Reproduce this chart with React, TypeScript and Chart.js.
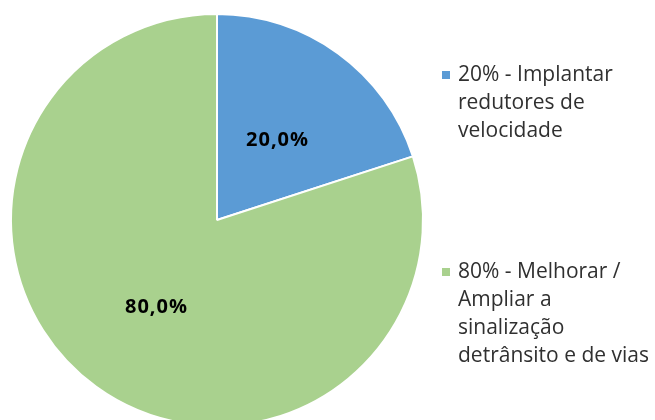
import React, { useEffect, useRef } from "react";
import { Chart, registerables } from "chart.js";

Chart.register(...registerables);

const categories = ["20% - Implantar redutores de velocidade", "80% - Melhorar / Ampliar a sinalização detrânsito e de vias"];
const values = [20, 80];
const valueLabels = ["20,0%", "80,0%"];
const legendLines = [
  ["20% - Implantar", "redutores de", "velocidade"],
  ["80% - Melhorar /", "Ampliar a", "sinalização", "detrânsito e de vias"],
];
const colors = ["#5B9BD5", "#A9D18E"];

const FONT = "'Open Sans', sans-serif";

export default function App() {
  const ref = useRef<HTMLCanvasElement | null>(null);
  useEffect(() => {
    document.body.style.margin = "0";
    const labelPlugin = {
      id: "labels",
      afterDatasetsDraw(chart: any) {
        const ctx = chart.ctx;
        const meta = chart.getDatasetMeta(0);
        ctx.save();
        ctx.fillStyle = "#000";
        ctx.textAlign = "center";
        ctx.textBaseline = "middle";
        ctx.font = `bold 20px ${FONT}`;
        (ctx as any).letterSpacing = "1px";
        meta.data.forEach((arc: any, i: number) => {
          const p = arc.tooltipPosition();
          ctx.fillText(valueLabels[i], p.x, p.y + 4);
        });
        (ctx as any).letterSpacing = "0px";
        // legend
        ctx.textAlign = "left";
        ctx.textBaseline = "middle";
        ctx.font = `21px ${FONT}`;
        const starts = [75, 272];
        legendLines.forEach((lines, i) => {
          ctx.fillStyle = colors[i];
          ctx.fillRect(442, starts[i] - 4, 8, 8);
          ctx.fillStyle = "#303030";
          lines.forEach((ln, j) => {
            ctx.fillText(ln, 458, starts[i] + j * 28);
          });
        });
        ctx.restore();
      },
    };
    const chart = new Chart(ref.current as HTMLCanvasElement, {
      type: "pie",
      data: {
        labels: categories,
        datasets: [
          {
            data: values,
            backgroundColor: colors,
            borderColor: "#ffffff",
            borderWidth: 2,
          },
        ],
      },
      options: {
        responsive: false,
        animation: false,
        layout: { padding: { left: 10, right: 231, top: 13, bottom: 13 } },
        plugins: {
          legend: { display: false },
          tooltip: { enabled: false },
        },
      },
      plugins: [labelPlugin],
    });
    return () => chart.destroy();
  }, []);
  return (
    <div style={{ width: 655, height: 420, overflow: "hidden", position: "relative" }}>
      <canvas ref={ref} width={655} height={440} style={{ display: "block" }} />
    </div>
  );
}
